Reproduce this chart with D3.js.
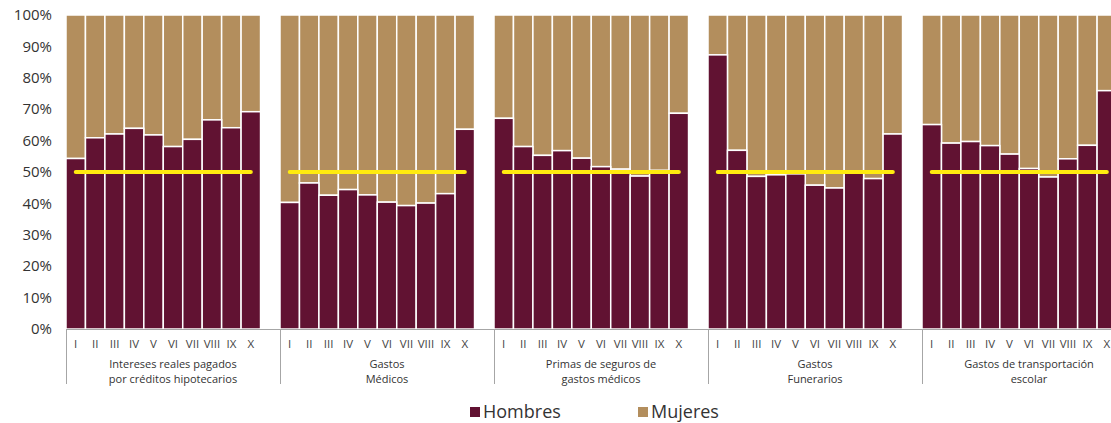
<!DOCTYPE html>
<html>
<head>
<meta charset="utf-8">
<script src="https://cdn.jsdelivr.net/npm/d3@7"></script>
<style>
  html, body { margin: 0; padding: 0; background: #fff; }
  svg { display: block; font-family: "Open Sans", "Noto Sans", sans-serif; }
</style>
</head>
<body>
<svg id="chart" width="1111" height="423"></svg>
<script>
const groups = [
  ["Intereses reales pagados", "por créditos hipotecarios"],
  ["Gastos", "Médicos"],
  ["Primas de seguros de", "gastos médicos"],
  ["Gastos", "Funerarios"],
  ["Gastos de transportación", "escolar"]
];
const categories = ["I","II","III","IV","V","VI","VII","VIII","IX","X"];
// Hombres share (%) per group, deciles I..X
const hombres = [
  [54.3, 60.9, 62.1, 63.9, 61.8, 58.1, 60.4, 66.6, 64.1, 69.2],
  [40.3, 46.5, 42.6, 44.4, 42.7, 40.4, 39.3, 40.1, 43.1, 63.6],
  [67.1, 58.1, 55.3, 56.8, 54.4, 51.7, 50.9, 48.7, 50.5, 68.7],
  [87.3, 56.9, 48.6, 49.1, 49.4, 45.8, 44.9, 49.6, 47.9, 62.1],
  [65.1, 59.2, 59.7, 58.4, 55.7, 51.1, 48.4, 54.2, 58.5, 75.9]
];
const referenceLine = 50;
const yTicks = [0,10,20,30,40,50,60,70,80,90,100];
const seriesNames = ["Hombres", "Mujeres"];
const colors = { Hombres: "#611232", Mujeres: "#B38E5D" };

(function () {
const svg = d3.select("#chart");
const left = 66, groupW = 214, plotTop = 15, plotBottom = 329;

const xGroup = d3.scaleBand().domain(d3.range(groups.length))
  .range([left, left + groupW * groups.length]).padding(0);
const xCat = d3.scaleBand().domain(categories)
  .range([0, groupW * 10 / 11]).padding(0);
const y = d3.scaleLinear().domain([0, 100]).range([plotBottom, plotTop]);

// y axis labels
svg.append("g").selectAll("text").data(yTicks).join("text")
  .attr("x", 52).attr("y", d => y(d)).attr("dy", "0.35em")
  .attr("text-anchor", "end").attr("font-size", 15).attr("fill", "#333")
  .text(d => d + "%");

// bars
groups.forEach((g, gi) => {
  const gx = xGroup(gi);
  const gEl = svg.append("g").attr("transform", `translate(${gx},0)`);
  const data = categories.map((c, i) => ({ c, h: hombres[gi][i] }));
  gEl.selectAll("rect.m").data(data).join("rect").attr("class", "m")
    .attr("x", d => xCat(d.c)).attr("width", xCat.bandwidth())
    .attr("y", y(100)).attr("height", d => y(d.h) - y(100))
    .attr("fill", colors.Mujeres).attr("stroke", "#fff").attr("stroke-width", 1.5);
  gEl.selectAll("rect.h").data(data).join("rect").attr("class", "h")
    .attr("x", d => xCat(d.c)).attr("width", xCat.bandwidth())
    .attr("y", d => y(d.h)).attr("height", d => y(0) - y(d.h))
    .attr("fill", colors.Hombres).attr("stroke", "#fff").attr("stroke-width", 1.5);
  // 50% line
  const line = d3.line().x(d => xCat(d) + xCat.bandwidth() / 2).y(() => y(referenceLine));
  gEl.append("path").datum(categories).attr("d", line)
    .attr("fill", "none").attr("stroke", "#FFEB0F").attr("stroke-width", 4)
    .attr("stroke-linecap", "round");
  // category labels
  gEl.selectAll("text.cat").data(categories).join("text").attr("class", "cat")
    .attr("x", d => xCat(d) + xCat.bandwidth() / 2).attr("y", 344).attr("dy", "0.35em")
    .attr("text-anchor", "middle").attr("font-size", 11.5).attr("fill", "#444")
    .text(d => d);
  // group labels
  gEl.selectAll("text.grp").data(g).join("text").attr("class", "grp")
    .attr("x", groupW / 2).attr("y", (d, i) => 364 + i * 15).attr("dy", "0.35em")
    .attr("text-anchor", "middle").attr("font-size", 11).attr("fill", "#333")
    .text(d => d);
});

// axis and group separators
svg.append("line").attr("x1", left).attr("x2", left + groupW * groups.length)
  .attr("y1", plotBottom + 0.5).attr("y2", plotBottom + 0.5).attr("stroke", "#A6A6A6").attr("stroke-width", 1);
svg.append("g").selectAll("line").data(d3.range(groups.length + 1)).join("line")
  .attr("x1", d => left + d * groupW + 0.5).attr("x2", d => left + d * groupW + 0.5)
  .attr("y1", plotBottom).attr("y2", 384).attr("stroke", "#A6A6A6").attr("stroke-width", 1);

// legend
const legendX = [470, 638];
const lg = svg.append("g").selectAll("g").data(seriesNames).join("g")
  .attr("transform", (d, i) => `translate(${legendX[i]},412)`);
lg.append("rect").attr("x", 0).attr("y", -5).attr("width", 10).attr("height", 10)
  .attr("fill", d => colors[d]);
lg.append("text").attr("x", 13).attr("y", 0).attr("dy", "0.35em")
  .attr("font-size", 18).attr("fill", "#333").text(d => d);
})();
</script>
</body>
</html>
